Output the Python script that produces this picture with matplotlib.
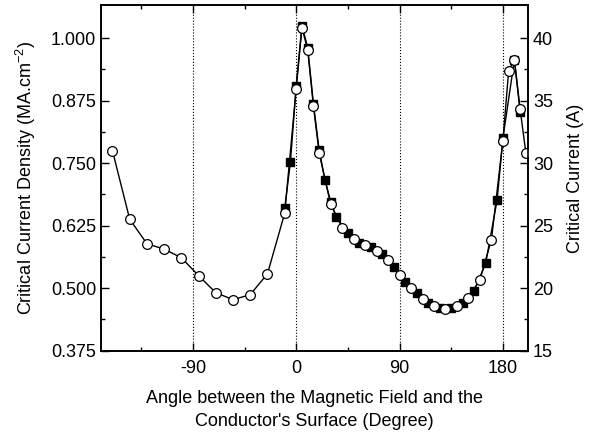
import matplotlib
matplotlib.use("Agg")
import matplotlib.pyplot as plt

plt.rcParams['font.family'] = ['Liberation Sans', 'DejaVu Sans']
plt.rcParams['axes.unicode_minus'] = False

# open circles
ang_c = [-160, -145, -130, -115, -100, -85, -70, -55, -40, -25, -10,
         0, 5, 10, 15, 20, 30, 40, 50, 60, 70, 80, 90, 100, 110, 120,
         130, 140, 150, 160, 170, 180, 185, 190, 195, 200]
jc_c = [0.775, 0.638, 0.589, 0.578, 0.561, 0.525, 0.491, 0.477, 0.487, 0.529, 0.650,
        0.899, 1.021, 0.977, 0.864, 0.770, 0.668, 0.621, 0.599, 0.586, 0.575, 0.557,
        0.527, 0.501, 0.479, 0.465, 0.458, 0.465, 0.481, 0.517, 0.597, 0.795,
        0.935, 0.957, 0.858, 0.770]

# filled squares
ang_s = [-10, -5, 0, 5, 10, 15, 20, 25, 30, 35, 45, 55, 65, 75, 85, 95, 105,
         115, 125, 135, 145, 155, 165, 175, 180, 190, 195]
jc_s = [0.660, 0.753, 0.905, 1.025, 0.981, 0.869, 0.776, 0.717, 0.673, 0.642,
        0.610, 0.591, 0.582, 0.568, 0.542, 0.513, 0.490, 0.471, 0.460, 0.460,
        0.471, 0.495, 0.550, 0.677, 0.800, 0.957, 0.852]

fig = plt.figure(figsize=(5.95, 4.34), dpi=100)
ax = fig.add_axes([0.1697, 0.192, 0.718, 0.796])

for v in [-90, 0, 90, 180]:
    ax.axvline(v, color='black', linestyle=':', linewidth=0.8, zorder=1)

ax.plot(ang_s, jc_s, '-s', color='black', markerfacecolor='black',
        markeredgecolor='black', markersize=6, linewidth=1, zorder=2)
ax.plot(ang_c, jc_c, '-o', color='black', markerfacecolor='white',
        markeredgecolor='black', markeredgewidth=0.9, markersize=7, linewidth=1, zorder=3)

ax.set_xlim(-170, 202)
ax.set_ylim(0.375, 1.066)
ax.set_xticks([-90, 0, 90, 180])
ax.set_xticks([-135, -45, 45, 135], minor=True)
ax.set_yticks([0.375, 0.5, 0.625, 0.75, 0.875, 1.0])
ax.set_yticklabels(['0.375', '0.500', '0.625', '0.750', '0.875', '1.000'])
ax.set_yticks([0.4375, 0.5625, 0.6875, 0.8125, 0.9375], minor=True)
ax.tick_params(which='both', direction='in', top=True, labelsize=13, width=1)
ax.tick_params(which='major', length=6)
ax.tick_params(which='minor', length=3)
ax.tick_params(axis='x', pad=7)
for s in ax.spines.values():
    s.set_linewidth(1.2)

ax.set_xlabel("Angle between the Magnetic Field and the\nConductor's Surface (Degree)",
              fontsize=13, linespacing=1.5, labelpad=9)
ax.set_ylabel("Critical Current Density (MA.cm$^{\\mathregular{-2}}$)", fontsize=13,
              labelpad=9)

ax2 = ax.twinx()
ax2.set_ylim(0.375 * 40, 1.066 * 40)
ax2.set_yticks([15, 20, 25, 30, 35, 40])
ax2.set_yticks([17.5, 22.5, 27.5, 32.5, 37.5], minor=True)
ax2.tick_params(which='both', direction='in', labelsize=13, width=1)
ax2.tick_params(which='major', length=6)
ax2.tick_params(which='minor', length=3)
ax2.set_ylabel("Critical Current (A)", fontsize=13, labelpad=10)
for s in ax2.spines.values():
    s.set_linewidth(1.2)

fig.savefig("out.png", dpi=100)
